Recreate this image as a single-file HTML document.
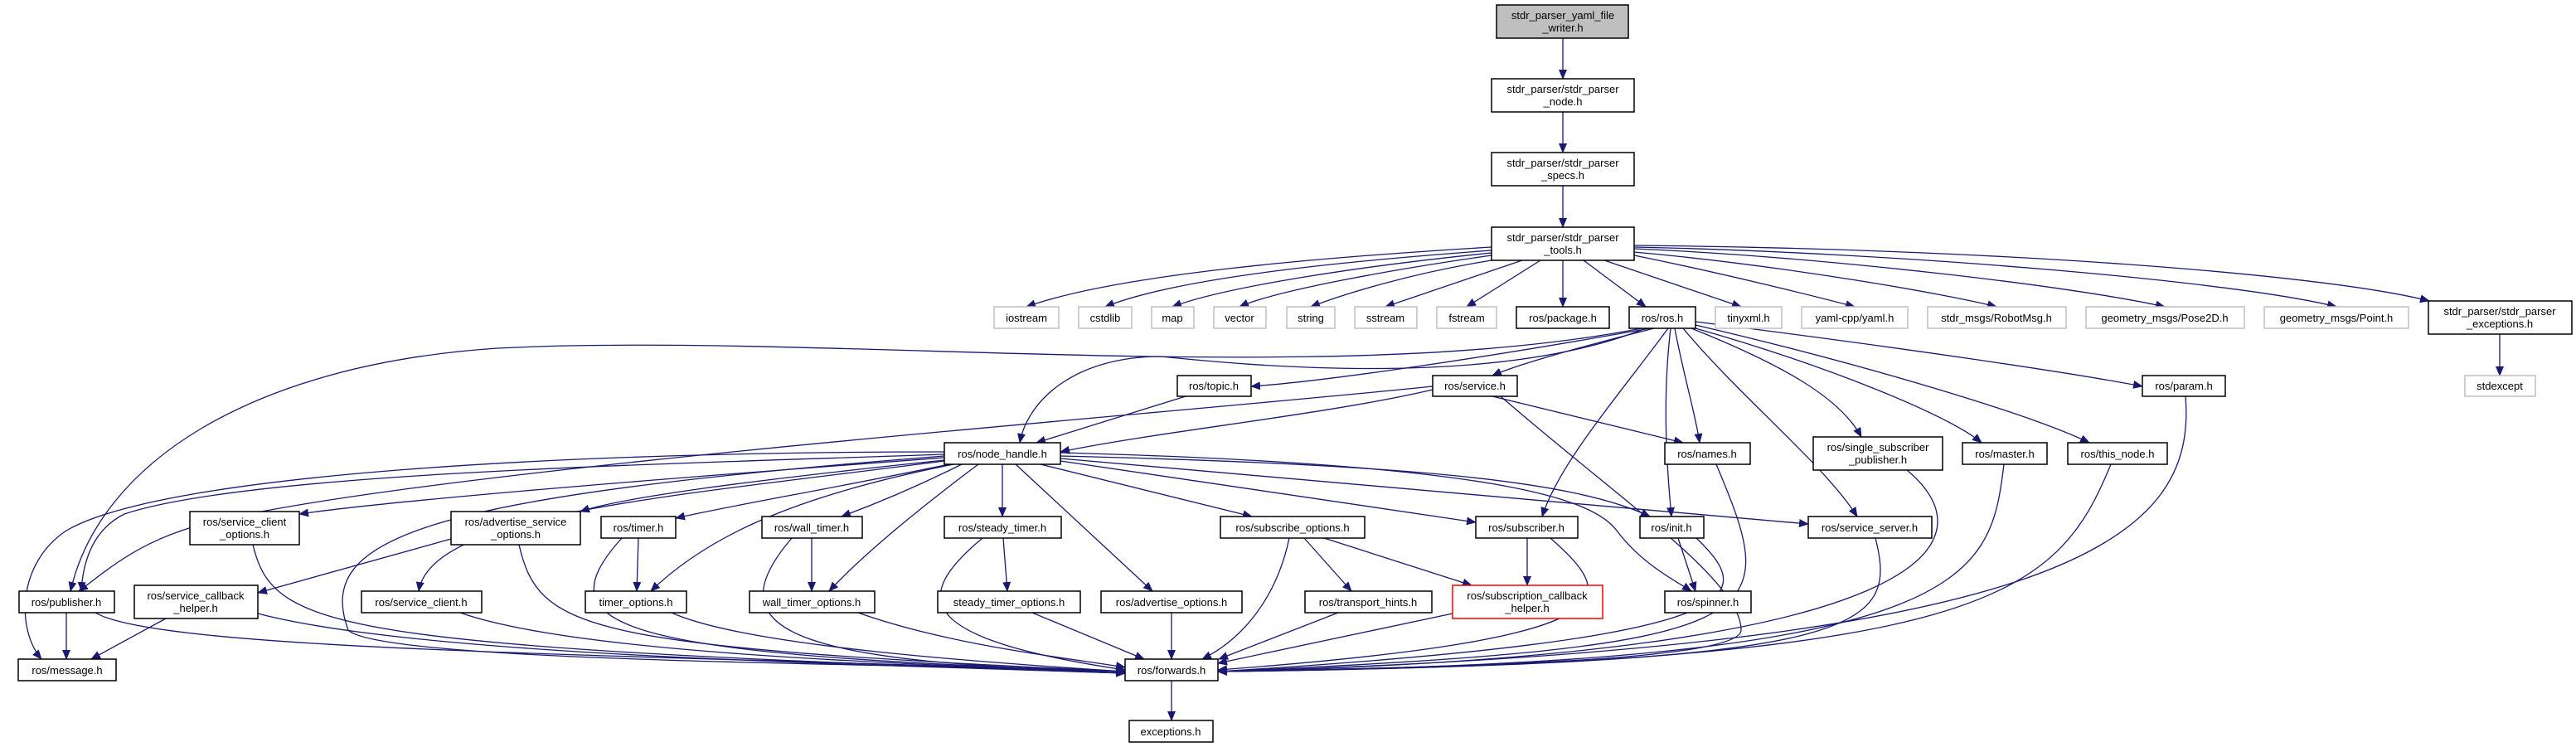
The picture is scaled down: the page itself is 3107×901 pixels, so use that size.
<!DOCTYPE html>
<html><head><meta charset="utf-8"><style>
html,body{margin:0;padding:0;background:#fff;}
svg{display:block;}
text{font-family:"Liberation Sans",sans-serif;font-size:13px;fill:#000;text-anchor:middle;}
.e path{fill:none;stroke:#191970;stroke-width:1.3;marker-end:url(#a);}
rect{fill:#fff;stroke:#000;stroke-width:1.5;}
rect.g{stroke:#c0c0c0;}
rect.r{stroke:#ff0000;}
</style></head><body>
<svg width="3107" height="901" viewBox="0 0 3107 901" xmlns="http://www.w3.org/2000/svg">
<defs><marker id="a" markerWidth="12" markerHeight="10" refX="11" refY="5" orient="auto" markerUnits="userSpaceOnUse"><path d="M0,0 L12,5 L0,10 z" fill="#191970"/></marker></defs>
<g class="e">
<path d="M1885 46 L1885 95"/>
<path d="M1885 135 L1885 184"/>
<path d="M1885 224 L1885 274"/>
<path d="M1799 298 C1600 310 1350 330 1238 370"/>
<path d="M1799 302 C1620 315 1420 335 1333 370"/>
<path d="M1799 305 C1650 320 1480 345 1414 370"/>
<path d="M1799 308 C1680 325 1540 350 1495 370"/>
<path d="M1799 314 C1700 330 1620 355 1581 370"/>
<path d="M1836 314 C1760 340 1700 360 1671 370"/>
<path d="M1858 314 L1769 370"/>
<path d="M1885 314 L1885 370"/>
<path d="M1910 314 L1985 370"/>
<path d="M1935 314 L2100 370"/>
<path d="M1971 308 C2080 330 2200 360 2237 370"/>
<path d="M1971 304 C2150 320 2350 355 2408 370"/>
<path d="M1971 300 C2200 310 2500 345 2611 370"/>
<path d="M1971 298 C2300 305 2700 340 2818 370"/>
<path d="M1971 296 C2400 300 2800 330 2930 363"/>
<path d="M3015 403 L3015 453"/>
<path d="M1990 396 C1800 430 1600 460 1509 466"/>
<path d="M1995 396 C1900 420 1830 440 1800 453"/>
<path d="M1985 396 C1800 470 1500 440 1400 430 C1300 430 1240 480 1230 534"/>
<path d="M1980 396 C1600 470 1000 400 600 420 C300 440 120 560 85 713"/>
<path d="M2020 396 C2030 450 2045 500 2050 534"/>
<path d="M2012 396 C1950 480 1880 560 1860 623"/>
<path d="M2015 396 C2005 480 2010 560 2016 623"/>
<path d="M2030 396 C2100 480 2200 560 2240 623"/>
<path d="M2040 396 C2150 440 2220 480 2245 527"/>
<path d="M2045 396 C2200 440 2350 500 2390 534"/>
<path d="M2045 392 C2250 440 2450 500 2520 534"/>
<path d="M2045 388 C2300 420 2500 450 2584 466"/>
<path d="M1430 478 L1250 534"/>
<path d="M1728 470 C1600 500 1400 520 1279 545"/>
<path d="M1800 478 L2030 534"/>
<path d="M1810 478 C1950 600 2100 700 2100 760 C2100 800 1700 805 1469 810"/>
<path d="M1728 466 C1400 500 600 560 300 620 C180 640 140 680 95 713"/>
<path d="M1139 548 C800 560 300 570 150 620 C110 640 100 680 98 713"/>
<path d="M1139 545 C700 545 200 570 80 640 C20 680 20 760 50 795"/>
<path d="M1139 552 C900 570 500 600 361 620"/>
<path d="M1139 555 C900 580 750 600 700 617"/>
<path d="M1145 560 C1000 590 880 610 815 625"/>
<path d="M1160 560 C1100 590 1050 610 1015 623"/>
<path d="M1150 560 C950 600 850 650 785 713"/>
<path d="M1180 560 C1100 620 1040 670 1000 713"/>
<path d="M1139 556 C800 600 520 620 505 713"/>
<path d="M1139 550 C500 600 380 650 420 760 C460 800 1100 800 1357 810"/>
<path d="M1209 560 L1209 623"/>
<path d="M1225 560 L1390 713"/>
<path d="M1255 560 L1510 623"/>
<path d="M1279 556 L1780 630"/>
<path d="M1279 550 C1700 560 1900 580 1990 623"/>
<path d="M1279 546 C1800 560 1920 600 1950 640 C1980 680 2020 700 2040 713"/>
<path d="M1279 553 L2181 632"/>
<path d="M305 657 C330 760 400 780 1357 812"/>
<path d="M544 650 L311 715"/>
<path d="M626 657 C650 760 700 780 1357 810"/>
<path d="M770 649 L768 713"/>
<path d="M750 649 C650 760 750 790 1357 810"/>
<path d="M979 649 L979 713"/>
<path d="M955 649 C860 760 950 800 1357 810"/>
<path d="M80 739 L80 795"/>
<path d="M115 739 C200 790 900 790 1357 812"/>
<path d="M200 746 L110 795"/>
<path d="M311 740 C500 790 1000 800 1357 812"/>
<path d="M555 739 C700 790 1100 800 1357 812"/>
<path d="M810 739 C900 780 1200 800 1357 810"/>
<path d="M1035 739 C1150 780 1300 795 1357 805"/>
<path d="M1210 649 L1215 713"/>
<path d="M1185 649 C1100 720 1100 770 1357 808"/>
<path d="M1245 739 L1380 795"/>
<path d="M1413 739 L1413 795"/>
<path d="M1555 649 C1540 720 1500 770 1450 795"/>
<path d="M1573 649 L1630 713"/>
<path d="M1597 649 L1775 706"/>
<path d="M1614 739 L1470 795"/>
<path d="M1752 740 L1469 800"/>
<path d="M1842 649 L1842 706"/>
<path d="M1870 649 C1950 720 1980 770 1469 808"/>
<path d="M2024 649 L2045 713"/>
<path d="M2046 649 C2120 720 2120 770 1469 810"/>
<path d="M2070 560 C2150 750 2150 780 1469 810"/>
<path d="M2262 649 C2290 760 2250 800 1469 810"/>
<path d="M2300 567 C2400 650 2350 790 1469 810"/>
<path d="M2417 560 C2400 700 2380 800 1469 810"/>
<path d="M2546 560 C2480 720 2400 800 1469 810"/>
<path d="M2636 478 C2650 650 2500 780 1469 810"/>
<path d="M1413 821 L1413 869"/>
</g>
<g>
<rect x="1805" y="6" width="159" height="40" style="fill:#bfbfbf"/><text x="1885" y="23">stdr_parser_yaml_file</text><text x="1885" y="38">_writer.h</text>
<rect x="1799" y="95" width="172" height="40"/><text x="1885" y="112">stdr_parser/stdr_parser</text><text x="1885" y="127">_node.h</text>
<rect x="1799" y="184" width="172" height="40"/><text x="1885" y="201">stdr_parser/stdr_parser</text><text x="1885" y="216">_specs.h</text>
<rect x="1799" y="274" width="172" height="40"/><text x="1885" y="291">stdr_parser/stdr_parser</text><text x="1885" y="306">_tools.h</text>

<rect class="g" x="1199" y="370" width="78" height="26"/><text x="1238" y="388">iostream</text>
<rect class="g" x="1301" y="370" width="64" height="26"/><text x="1333" y="388">cstdlib</text>
<rect class="g" x="1389" y="370" width="51" height="26"/><text x="1414" y="388">map</text>
<rect class="g" x="1464" y="370" width="63" height="26"/><text x="1495" y="388">vector</text>
<rect class="g" x="1552" y="370" width="58" height="26"/><text x="1581" y="388">string</text>
<rect class="g" x="1634" y="370" width="75" height="26"/><text x="1671" y="388">sstream</text>
<rect class="g" x="1733" y="370" width="72" height="26"/><text x="1769" y="388">fstream</text>
<rect x="1829" y="370" width="112" height="26"/><text x="1885" y="388">ros/package.h</text>
<rect x="1965" y="370" width="80" height="26"/><text x="2005" y="388">ros/ros.h</text>
<rect class="g" x="2069" y="370" width="80" height="26"/><text x="2109" y="388">tinyxml.h</text>
<rect class="g" x="2173" y="370" width="128" height="26"/><text x="2237" y="388">yaml-cpp/yaml.h</text>
<rect class="g" x="2325" y="370" width="167" height="26"/><text x="2408" y="388">stdr_msgs/RobotMsg.h</text>
<rect class="g" x="2516" y="370" width="191" height="26"/><text x="2611" y="388">geometry_msgs/Pose2D.h</text>
<rect class="g" x="2731" y="370" width="174" height="26"/><text x="2818" y="388">geometry_msgs/Point.h</text>
<rect x="2929" y="363" width="173" height="40"/><text x="3015" y="380">stdr_parser/stdr_parser</text><text x="3015" y="395">_exceptions.h</text>
<rect class="g" x="2973" y="453" width="85" height="25"/><text x="3015" y="470">stdexcept</text>

<rect x="1420" y="453" width="89" height="25"/><text x="1464" y="470">ros/topic.h</text>
<rect x="1728" y="453" width="102" height="25"/><text x="1779" y="470">ros/service.h</text>
<rect x="2584" y="453" width="100" height="25"/><text x="2634" y="470">ros/param.h</text>

<rect x="1139" y="534" width="140" height="26"/><text x="1209" y="552">ros/node_handle.h</text>
<rect x="2008" y="534" width="103" height="26"/><text x="2059" y="552">ros/names.h</text>
<rect x="2187" y="527" width="156" height="40"/><text x="2265" y="544">ros/single_subscriber</text><text x="2265" y="559">_publisher.h</text>
<rect x="2367" y="534" width="102" height="26"/><text x="2418" y="552">ros/master.h</text>
<rect x="2494" y="534" width="120" height="26"/><text x="2554" y="552">ros/this_node.h</text>

<rect x="229" y="617" width="132" height="40"/><text x="295" y="634">ros/service_client</text><text x="295" y="649">_options.h</text>
<rect x="544" y="617" width="156" height="40"/><text x="622" y="634">ros/advertise_service</text><text x="622" y="649">_options.h</text>
<rect x="725" y="623" width="90" height="26"/><text x="770" y="641">ros/timer.h</text>
<rect x="919" y="623" width="121" height="26"/><text x="979" y="641">ros/wall_timer.h</text>
<rect x="1139" y="623" width="141" height="26"/><text x="1209" y="641">ros/steady_timer.h</text>
<rect x="1472" y="623" width="174" height="26"/><text x="1559" y="641">ros/subscribe_options.h</text>
<rect x="1780" y="623" width="123" height="26"/><text x="1841" y="641">ros/subscriber.h</text>
<rect x="1978" y="623" width="77" height="26"/><text x="2016" y="641">ros/init.h</text>
<rect x="2181" y="623" width="149" height="26"/><text x="2255" y="641">ros/service_server.h</text>

<rect x="23" y="713" width="115" height="26"/><text x="80" y="731">ros/publisher.h</text>
<rect x="162" y="706" width="149" height="40"/><text x="236" y="723">ros/service_callback</text><text x="236" y="738">_helper.h</text>
<rect x="436" y="713" width="145" height="26"/><text x="508" y="731">ros/service_client.h</text>
<rect x="706" y="713" width="122" height="26"/><text x="767" y="731">timer_options.h</text>
<rect x="904" y="713" width="151" height="26"/><text x="979" y="731">wall_timer_options.h</text>
<rect x="1131" y="713" width="172" height="26"/><text x="1217" y="731">steady_timer_options.h</text>
<rect x="1328" y="713" width="170" height="26"/><text x="1413" y="731">ros/advertise_options.h</text>
<rect x="1574" y="713" width="153" height="26"/><text x="1650" y="731">ros/transport_hints.h</text>
<rect class="r" x="1752" y="706" width="181" height="40"/><text x="1842" y="723">ros/subscription_callback</text><text x="1842" y="738">_helper.h</text>
<rect x="2008" y="713" width="104" height="26"/><text x="2060" y="731">ros/spinner.h</text>

<rect x="22" y="795" width="118" height="26"/><text x="81" y="813">ros/message.h</text>
<rect x="1357" y="795" width="112" height="26"/><text x="1413" y="813">ros/forwards.h</text>
<rect x="1362" y="869" width="101" height="26"/><text x="1412" y="887">exceptions.h</text>
</g>
</svg>
</body></html>
